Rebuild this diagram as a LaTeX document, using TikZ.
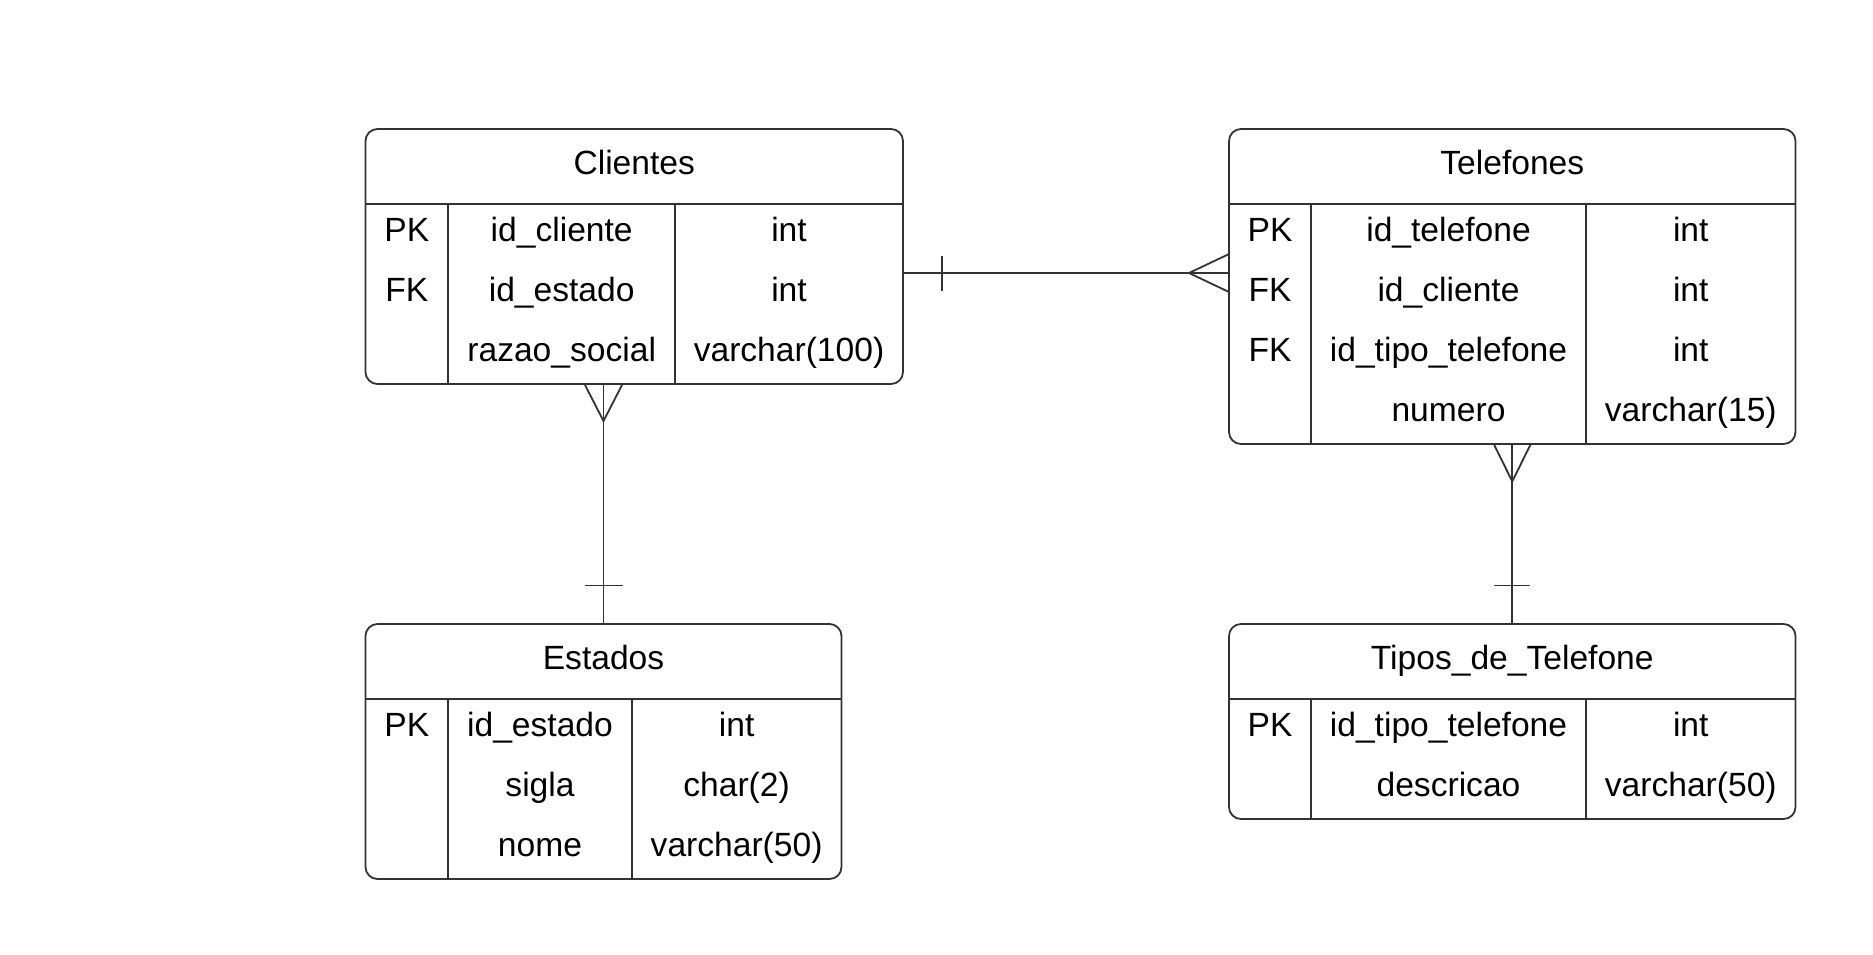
\documentclass[tikz,border=0pt]{standalone}
\usepackage{fontspec}
\setmainfont{Liberation Sans}
\usetikzlibrary{fit,calc}
\definecolor{ln}{RGB}{51,51,51}

% One entity box: name, left, top, right, divider 1, divider 2, row count, title
\newcommand\ertable[8]{%
  \pgfmathsetmacro\erbot{#3+75+60*#7}%
  \node[tbl, fit={(#2,#3) (#4,\erbot)}] (#1) {};
  \draw[rule] (#2,#3+75) -- (#4,#3+75);
  \draw[rule] (#5,#3+75) -- (#5,\erbot);
  \draw[rule] (#6,#3+75) -- (#6,\erbot);
  \node[cell] (#1-title) at ({(#2+#4)/2},#3+45) {#8};
}
% One attribute row: node prefix, key x, field x, type x, baseline y, key, field, type
\newcommand\errow[8]{%
  \node[cell] (#1-k) at (#2,#5) {#6};
  \node[cell] (#1-f) at (#3,#5) {#7};
  \node[cell] (#1-t) at (#4,#5) {#8};
}

\begin{document}
\begin{tikzpicture}[x=0.5pt,y=-0.5pt,
  tbl/.style={draw=ln,line width=0.9pt,rounded corners=6pt,inner sep=0pt,outer sep=0pt},
  rule/.style={draw=ln,line width=0.9pt},
  rel/.style={draw=ln,line width=0.9pt},
  cell/.style={font=\fontsize{16.8}{20}\selectfont,inner sep=0pt,anchor=base,text=black}]
\useasboundingbox (0,0) rectangle (1873,954);

% Clientes
\ertable{cl}{365.5}{129}{903}{448.3}{675}{3}{Clientes}
\errow{cl1}{406.9}{561.7}{789}{241.5}{PK}{id\_cliente}{int}
\errow{cl2}{406.9}{561.7}{789}{301.5}{FK}{id\_estado}{int}
\errow{cl3}{406.9}{561.7}{789}{361.5}{}{razao\_social}{varchar(100)}

% Telefones
\ertable{te}{1229}{129}{1795.5}{1311}{1586}{4}{Telefones}
\errow{te1}{1270}{1448.5}{1690.75}{241.5}{PK}{id\_telefone}{int}
\errow{te2}{1270}{1448.5}{1690.75}{301.5}{FK}{id\_cliente}{int}
\errow{te3}{1270}{1448.5}{1690.75}{361.5}{FK}{id\_tipo\_telefone}{int}
\errow{te4}{1270}{1448.5}{1690.75}{421.5}{}{numero}{varchar(15)}

% Estados
\ertable{es}{365.5}{624}{841.5}{448.3}{631.7}{3}{Estados}
\errow{es1}{406.9}{540}{736.6}{736.5}{PK}{id\_estado}{int}
\errow{es2}{406.9}{540}{736.6}{796.5}{}{sigla}{char(2)}
\errow{es3}{406.9}{540}{736.6}{856.5}{}{nome}{varchar(50)}

% Tipos_de_Telefone
\ertable{tp}{1229}{624}{1795.5}{1311}{1586}{2}{Tipos\_de\_Telefone}
\errow{tp1}{1270}{1448.5}{1690.75}{736.5}{PK}{id\_tipo\_telefone}{int}
\errow{tp2}{1270}{1448.5}{1690.75}{796.5}{}{descricao}{varchar(50)}

% Clientes (one) -- Telefones (many)
\coordinate (ct) at (cl.east |- 0,273);
\coordinate (tc) at (te.west |- 0,273);
\draw[rel] (ct) -- (tc);
\draw[rel] ([xshift=19.5pt,yshift=8.75pt]ct) -- ([xshift=19.5pt,yshift=-8.75pt]ct);
\draw[rel] ([yshift=9.5pt]tc) -- ([xshift=-20pt]tc) -- ([yshift=-9.5pt]tc);

% Estados (one) -- Clientes (many)
\coordinate (ce) at (es.north |- cl.south);
\draw[rel] (ce) -- (es.north);
\draw[rel] ([xshift=-9.5pt]ce) -- ([yshift=-18.5pt]ce) -- ([xshift=9.5pt]ce);
\draw[rel] ([xshift=-9.5pt,yshift=19.25pt]es.north) -- ([xshift=9.5pt,yshift=19.25pt]es.north);

% Tipos_de_Telefone (one) -- Telefones (many)
\coordinate (tt) at (tp.north |- te.south);
\draw[rel] (tt) -- (tp.north);
\draw[rel] ([xshift=-9.25pt]tt) -- ([yshift=-18.7pt]tt) -- ([xshift=9.25pt]tt);
\draw[rel] ([xshift=-9pt,yshift=19.3pt]tp.north) -- ([xshift=9pt,yshift=19.3pt]tp.north);
\end{tikzpicture}
\end{document}
